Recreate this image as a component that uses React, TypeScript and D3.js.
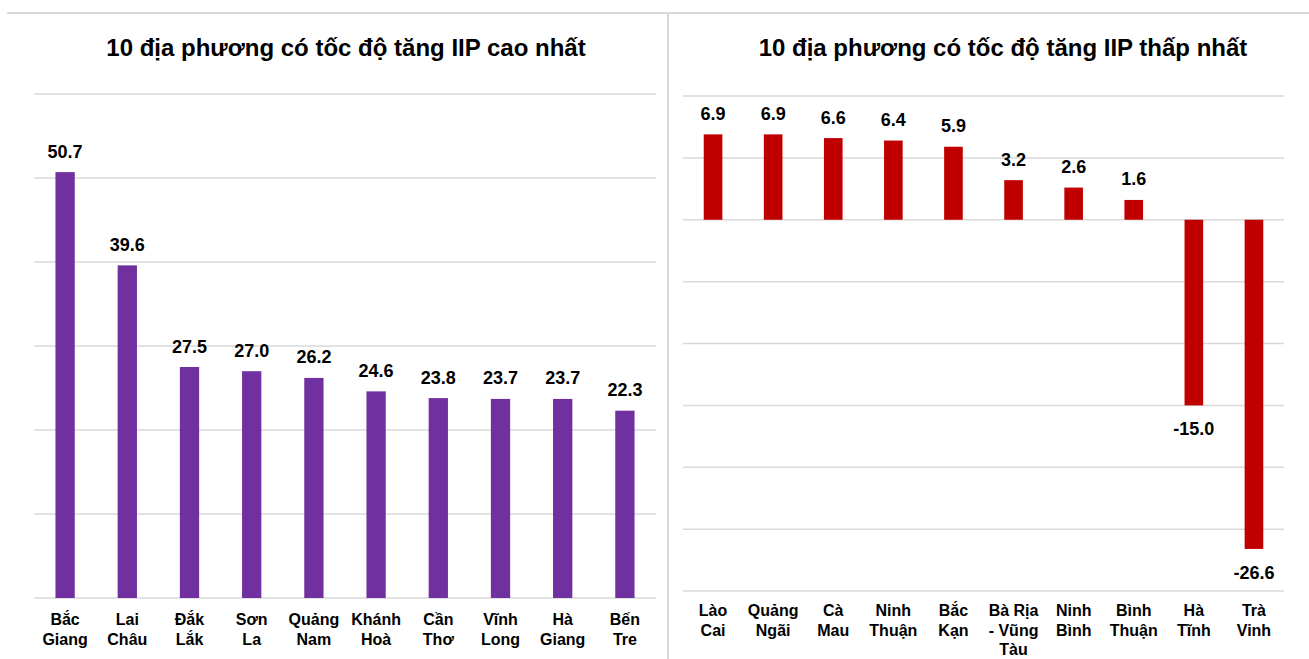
import React from "react";
import * as d3 from "d3";

const highCategories = ["Bắc\nGiang", "Lai\nChâu", "Đắk\nLắk", "Sơn\nLa", "Quảng\nNam", "Khánh\nHoà", "Cần\nThơ", "Vĩnh\nLong", "Hà\nGiang", "Bến\nTre"];
const highValues = [50.7, 39.6, 27.5, 27.0, 26.2, 24.6, 23.8, 23.7, 23.7, 22.3];
const highTicks = [0, 10, 20, 30, 40, 50, 60];

const lowCategories = ["Lào\nCai", "Quảng\nNgãi", "Cà\nMau", "Ninh\nThuận", "Bắc\nKạn", "Bà Rịa\n- Vũng\nTàu", "Ninh\nBình", "Bình\nThuận", "Hà\nTĩnh", "Trà\nVinh"];
const lowValues = [6.9, 6.9, 6.6, 6.4, 5.9, 3.2, 2.6, 1.6, -15.0, -26.6];
const lowTicks = [-30, -25, -20, -15, -10, -5, 0, 5, 10];

const titles = ["10 địa phương có tốc độ tăng IIP cao nhất", "10 địa phương có tốc độ tăng IIP thấp nhất"];

const FONT = "'Liberation Sans', Arial, sans-serif";
const GRID = "#d9d9d9";

type PanelProps = {
  cats: string[];
  vals: number[];
  ticks: number[];
  x0: number;
  x1: number;
  yTop: number;
  yBottom: number;
  color: string;
  title: string;
  titleX: number;
  labelOffset: number;
  lineHeight: number;
};

function Panel({ cats, vals, ticks, x0, x1, yTop, yBottom, color, title, titleX, labelOffset, lineHeight }: PanelProps) {
  const x = d3.scaleBand<string>().domain(cats).range([x0, x1]).paddingInner(0.69).paddingOuter(0.345);
  const y = d3.scaleLinear().domain([d3.min(ticks)!, d3.max(ticks)!]).range([yBottom, yTop]);
  const bw = x.bandwidth();
  const labelBase = yBottom + labelOffset;
  return (
    <g>
      <text x={titleX} y={56} textAnchor="middle" fontFamily={FONT} fontWeight="bold" fontSize={24} fill="#000">
        {title}
      </text>
      {ticks.map((t) => (
        <line key={t} x1={x0} x2={x1} y1={y(t)} y2={y(t)} stroke={GRID} strokeWidth={1.5} />
      ))}
      {cats.map((c, i) => {
        const v = vals[i];
        const top = y(Math.max(0, v));
        const bot = y(Math.min(0, v));
        const cx = x(c)! + bw / 2;
        return (
          <g key={c}>
            <rect x={x(c)} y={top} width={bw} height={bot - top} fill={color} />
            <text
              x={cx}
              y={v >= 0 ? top - 14.5 : bot + 30}
              textAnchor="middle"
              fontFamily={FONT}
              fontWeight="bold"
              fontSize={18}
              fill="#000"
            >
              {v.toFixed(1)}
            </text>
            {c.split("\n").map((line, j) => (
              <text
                key={j}
                x={cx}
                y={labelBase + j * lineHeight}
                textAnchor="middle"
                fontFamily={FONT}
                fontWeight="bold"
                fontSize={16}
                fill="#000"
              >
                {line}
              </text>
            ))}
          </g>
        );
      })}
    </g>
  );
}

export default function App() {
  return (
    <svg width={1309} height={659} style={{ position: "absolute", left: 0, top: 0, background: "#fff" }}>
      <rect x={0} y={0} width={1309} height={659} fill="#fff" />
      <line x1={7} x2={1309} y1={13} y2={13} stroke={GRID} strokeWidth={2} />
      <line x1={668} x2={668} y1={13} y2={659} stroke={GRID} strokeWidth={2} />
      <Panel
        cats={highCategories}
        vals={highValues}
        ticks={highTicks}
        x0={34}
        x1={656}
        yTop={94}
        yBottom={598}
        color="#7030A0"
        title={titles[0]}
        titleX={346}
        labelOffset={27}
        lineHeight={20}
      />
      <Panel
        cats={lowCategories}
        vals={lowValues}
        ticks={lowTicks}
        x0={683}
        x1={1284}
        yTop={96}
        yBottom={591}
        color="#C00000"
        title={titles[1]}
        titleX={1003}
        labelOffset={25}
        lineHeight={19.5}
      />
    </svg>
  );
}
